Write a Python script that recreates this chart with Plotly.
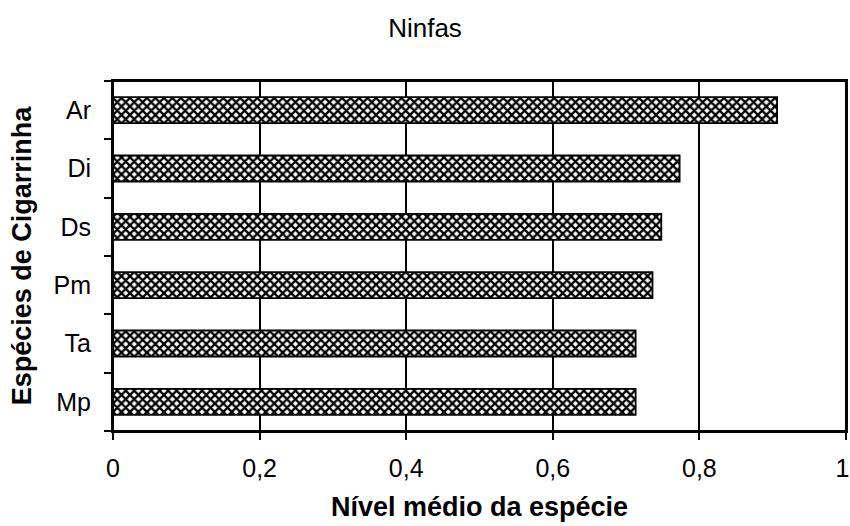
import plotly.graph_objects as go

species = ["Mp", "Ta", "Pm", "Ds", "Di", "Ar"]
nivel = [0.713, 0.713, 0.736, 0.748, 0.773, 0.906]
x_tickvals = [0, 0.2, 0.4, 0.6, 0.8, 1.0]
x_ticktext = ["0", "0,2", "0,4", "0,6", "0,8", "1\u00a0"]

FONT = "Liberation Sans, Arial, sans-serif"

fig = go.Figure(go.Bar(
    x=nivel, y=species, orientation="h", width=0.445,
    marker=dict(color="white",
                line=dict(color="black", width=1.8),
                pattern=dict(shape="x", size=6, solidity=0.62,
                             fgcolor="black", bgcolor="white", fillmode="replace")),
))

fig.add_shape(type="rect", xref="paper", yref="paper", x0=0, x1=1, y0=0, y1=1,
              line=dict(color="black", width=2), fillcolor="rgba(0,0,0,0)", layer="above")

fig.update_layout(
    width=850, height=526,
    plot_bgcolor="white", paper_bgcolor="white",
    margin=dict(l=113, r=4, t=81, b=95),
    showlegend=False,
    title=dict(text="Ninfas", x=0.5, xanchor="center", y=1 - 28/526, yanchor="middle",
               font=dict(family=FONT, size=26, color="black")),
    font=dict(family=FONT, size=25, color="black"),
)
fig.update_xaxes(
    range=[0, 1], tickvals=x_tickvals, ticktext=x_ticktext,
    showgrid=True, gridcolor="black", gridwidth=1.5,
    showline=True, linecolor="black", linewidth=2, mirror=True,
    ticks="outside", ticklen=7, tickwidth=1.5, tickcolor="black",
    ticklabelstandoff=7, ticklabeloverflow="allow",
    zeroline=False, automargin=False,
    tickfont=dict(family=FONT, size=25, color="black"),
    title=dict(text="<b>Nível médio da espécie</b>", standoff=16,
               font=dict(family=FONT, size=27, color="black")),
)
fig.update_yaxes(
    categoryorder="array", categoryarray=species,
    showgrid=False, automargin=False,
    showline=True, linecolor="black", linewidth=2, mirror=True,
    ticks="outside", ticklen=7, tickwidth=1.5, tickcolor="black",
    tickson="boundaries", ticklabelstandoff=15,
    tickfont=dict(family=FONT, size=25, color="black"),
    title=dict(text="<b>Espécies de Cigarrinha</b>", standoff=14,
               font=dict(family=FONT, size=27, color="black")),
)

fig.write_html("out.html", config={"displayModeBar": False},
               post_script="document.documentElement.style.overflow='hidden';"
                           "document.body.style.margin='0';document.body.style.overflow='hidden';")
